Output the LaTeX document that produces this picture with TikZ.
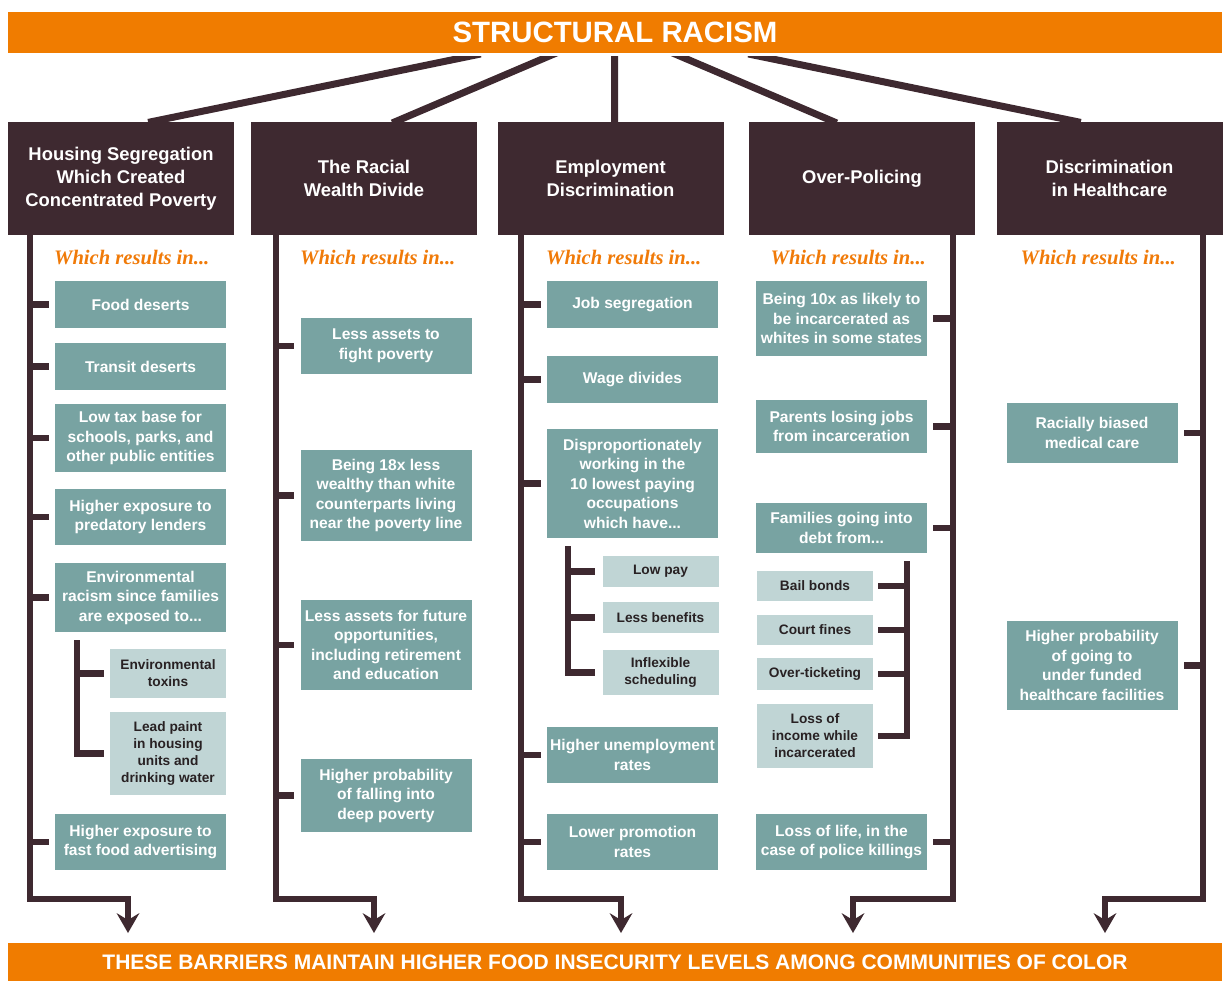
\documentclass[tikz,border=0pt]{standalone}
\usepackage{fontspec}
\setmainfont{Liberation Sans}
\newfontfamily\leadserif{Liberation Serif}
\usetikzlibrary{arrows.meta,calc}
\definecolor{bannerorange}{RGB}{240,124,0}
\definecolor{leadorange}{RGB}{240,122,8}
\definecolor{darkplum}{RGB}{62,41,48}
\definecolor{tealbox}{RGB}{120,163,162}
\definecolor{lightbox}{RGB}{192,213,213}
\definecolor{subtext}{RGB}{40,33,35}
\begin{document}
\begin{tikzpicture}[x=1pt,y=-1pt,
  banner/.style={fill=bannerorange, text=white, minimum width=1214pt, inner sep=0pt},
  head/.style={fill=darkplum, text=white, minimum width=226pt, minimum height=113pt, inner sep=0pt, align=center, font=\fontsize{18.4}{23}\selectfont\bfseries},
  item/.style={fill=tealbox, text=white, minimum width=171pt, inner sep=0pt, align=center, font=\fontsize{15.6}{19.5}\selectfont\bfseries},
  subitem/.style={fill=lightbox, text=subtext, minimum width=116pt, inner sep=0pt, align=center, font=\fontsize{13.7}{17}\selectfont\bfseries},
  lead/.style={text=leadorange, inner sep=0pt, font=\fontsize{20.6}{24}\selectfont\leadserif\bfseries\itshape},
  spine/.style={draw=darkplum, line width=6.5pt, line join=miter},
  tick/.style={draw=darkplum, line width=6.5pt},
  link/.style={draw=darkplum, line width=7pt},
  downarrow/.style={spine, -{Stealth[length=20pt,width=23pt,inset=7pt,line width=0pt]}}
]
\useasboundingbox (0,0) rectangle (1225,981);

% banners
\node[banner, minimum height=41pt, font=\fontsize{29.4}{34}\selectfont\bfseries] (top) at (615,32.5) {STRUCTURAL RACISM};
\node[banner, minimum height=38pt, font=\fontsize{21}{24}\selectfont\bfseries] (bot) at (615,962) {THESE BARRIERS MAINTAIN HIGHER FOOD INSECURITY LEVELS AMONG COMMUNITIES OF COLOR};

% column headers
\node[head] (h1) at (121,178.5) {Housing Segregation\\Which Created\\Concentrated Poverty};
\node[head] (h2) at (364,178.5) {The Racial\\Wealth Divide};
\node[head] (h3) at (610.5,178.5) {Employment\\Discrimination};
\node[head] (h4) at (862,178.5) {Over-Policing};
\node[head] (h5) at (1109.5,178.5) {Discrimination\\in Healthcare};

% links from the banner to the headers
\coordinate (r1) at (466,57);
\coordinate (r2) at (547,57);
\coordinate (r3) at (614.5,57);
\coordinate (r4) at (682,57);
\coordinate (r5) at (763,57);
\begin{scope}
  \clip (0,57) rectangle (1225,122.5);
  \draw[link, shorten <=-15pt, shorten >=-3pt] (r1) -- ($(h1.north west)!0.633!(h1.north east)$);
  \draw[link, shorten <=-15pt, shorten >=-3pt] (r2) -- ($(h2.north west)!0.637!(h2.north east)$);
  \draw[link, shorten <=-15pt, shorten >=-3pt] (r3) -- ($(h3.north west)!0.518!(h3.north east)$);
  \draw[link, shorten <=-15pt, shorten >=-3pt] (r4) -- ($(h4.north west)!0.376!(h4.north east)$);
  \draw[link, shorten <=-15pt, shorten >=-3pt] (r5) -- ($(h5.north west)!0.360!(h5.north east)$);
\end{scope}

% "Which results in..." captions
\node[lead, anchor=west] (w1) at (54,258) {Which results in...};
\node[lead, anchor=west] (w2) at (300,258) {Which results in...};
\node[lead, anchor=west] (w3) at (546,258) {Which results in...};
\node[lead, anchor=east] (w4) at (926,258) {Which results in...};
\node[lead, anchor=east] (w5) at (1176,258) {Which results in...};

% column 1
\node[item, minimum height=47pt] (a1) at (140.5,304.5) {Food deserts};
\node[item, minimum height=47pt] (a2) at (140.5,366.5) {Transit deserts};
\node[item, minimum height=68pt] (a3) at (140.5,438) {Low tax base for\\schools, parks, and\\other public entities};
\node[item, minimum height=56pt] (a4) at (140.5,517) {Higher exposure to\\predatory lenders};
\node[item, minimum height=69pt] (a5) at (140.5,597.5) {Environmental\\racism since families\\are exposed to...};
\node[subitem, minimum height=49pt] (s1) at (168,673.5) {Environmental\\toxins};
\node[subitem, minimum height=83pt] (s2) at (168,753.5) {Lead paint\\in housing\\units and\\drinking water};
\node[item, minimum height=56pt] (a6) at (140.5,842) {Higher exposure to\\fast food advertising};

% column 2
\node[item, minimum height=56pt] (b1) at (386,346) {Less assets to\\fight poverty};
\node[item, minimum height=91pt] (b2) at (386,495.5) {Being 18x less\\wealthy than white\\counterparts living\\near the poverty line};
\node[item, minimum height=90pt] (b3) at (386,645) {Less assets for future\\opportunities,\\including retirement\\and education};
\node[item, minimum height=73pt] (b4) at (386,795.5) {Higher probability\\of falling into\\deep poverty};

% column 3
\node[item, minimum height=47pt] (c1) at (632.5,304.5) {Job segregation};
\node[item, minimum height=47pt] (c2) at (632.5,379.5) {Wage divides};
\node[item, minimum height=109pt] (c3) at (632.5,483.5) {Disproportionately\\working in the\\10 lowest paying\\occupations\\which have...};
\node[subitem, minimum height=31pt] (t1) at (660.5,571.5) {Low pay};
\node[subitem, minimum height=31pt] (t2) at (660.5,617.5) {Less benefits};
\node[subitem, minimum height=45pt] (t3) at (660.5,672.5) {Inflexible\\scheduling};
\node[item, minimum height=56pt] (c4) at (632.5,755) {Higher unemployment\\rates};
\node[item, minimum height=56pt] (c5) at (632.5,842) {Lower promotion\\rates};

% column 4
\node[item, minimum height=75pt] (d1) at (841.5,318.5) {Being 10x as likely to\\be incarcerated as\\whites in some states};
\node[item, minimum height=53pt] (d2) at (841.5,426.5) {Parents losing jobs\\from incarceration};
\node[item, minimum height=50pt] (d3) at (841.5,528) {Families going into\\debt from...};
\node[subitem, minimum height=30pt] (u1) at (815,586) {Bail bonds};
\node[subitem, minimum height=30pt] (u2) at (815,630) {Court fines};
\node[subitem, minimum height=32pt] (u3) at (815,674) {Over-ticketing};
\node[subitem, minimum height=64pt] (u4) at (815,736) {Loss of\\income while\\incarcerated};
\node[item, minimum height=56pt] (d4) at (841.5,842) {Loss of life, in the\\case of police killings};

% column 5
\node[item, minimum height=60pt] (e1) at (1092,433) {Racially biased\\medical care};
\node[item, minimum height=89pt] (e2) at (1092,665.5) {Higher probability\\of going to\\under funded\\healthcare facilities};

% spine positions, bends and arrow tips
\coordinate (sp1) at (30,0);    \coordinate (k1) at (128,899);  \coordinate (tip1) at (128,933);
\coordinate (sp2) at (276,0);   \coordinate (k2) at (374,899);  \coordinate (tip2) at (374,933);
\coordinate (sp3) at (521,0);   \coordinate (k3) at (621,899);  \coordinate (tip3) at (621,933);
\coordinate (sp4) at (953,0);   \coordinate (k4) at (853,899);  \coordinate (tip4) at (853,933);
\coordinate (sp5) at (1203,0);  \coordinate (k5) at (1105,899); \coordinate (tip5) at (1105,933);

\draw[downarrow] (h1.south -| sp1) |- (k1) -- (tip1);
\draw[downarrow] (h2.south -| sp2) |- (k2) -- (tip2);
\draw[downarrow] (h3.south -| sp3) |- (k3) -- (tip3);
\draw[downarrow] (h4.south -| sp4) |- (k4) -- (tip4);
\draw[downarrow] (h5.south -| sp5) |- (k5) -- (tip5);

% ticks from the spines to the boxes
\foreach \n in {a1,a2,a3,a4,a5,a6}
  \draw[tick, shorten >=6pt] (\n.west -| sp1) -- (\n.west);
\foreach \n in {b1,b2,b3,b4}
  \draw[tick, shorten >=6pt] (\n.west -| sp2) -- (\n.west);
\foreach \n in {c1,c2,c3,c4,c5}
  \draw[tick, shorten >=6pt] (\n.west -| sp3) -- (\n.west);
\foreach \n in {d1,d2,d3,d4}
  \draw[tick, shorten >=6pt] (\n.east -| sp4) -- (\n.east);
\foreach \n in {e1,e2}
  \draw[tick, shorten >=6pt] (\n.east -| sp5) -- (\n.east);

% secondary brackets
\coordinate (ss1) at (77,640);
\draw[spine, shorten >=6pt] (ss1) |- (s2.west);
\draw[tick, shorten >=6pt] (s1.west -| ss1) -- (s1.west);

\coordinate (ss3) at (568,546);
\draw[spine, shorten >=7pt] (ss3) |- (t3.west);
\foreach \n in {t1,t2}
  \draw[tick, shorten >=7pt] (\n.west -| ss3) -- (\n.west);

\coordinate (ss4) at (907,561);
\draw[spine, shorten >=5pt] (ss4) |- (u4.east);
\foreach \n in {u1,u2,u3}
  \draw[tick, shorten >=5pt] (\n.east -| ss4) -- (\n.east);
\end{tikzpicture}
\end{document}
